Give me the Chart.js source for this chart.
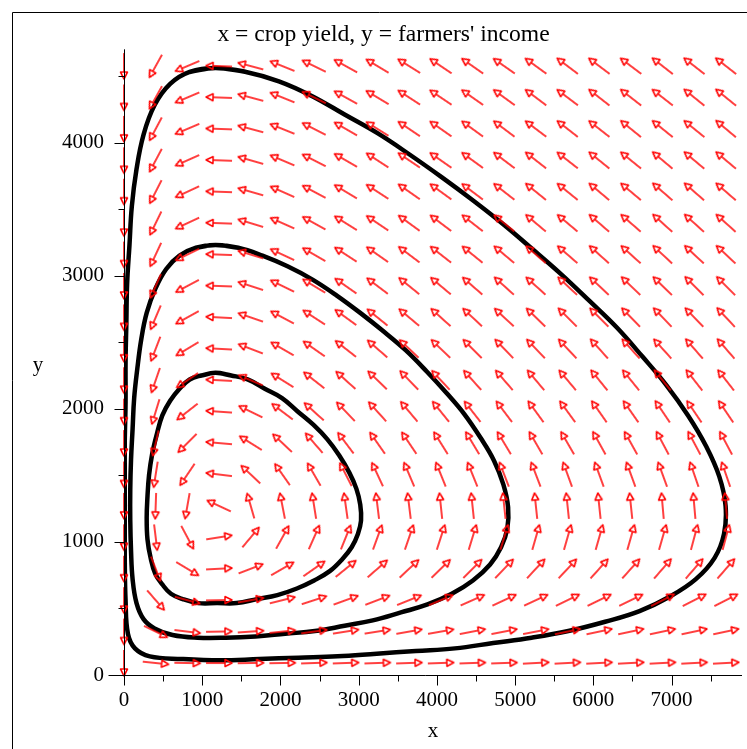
<!DOCTYPE html>
<html>
<head>
<meta charset="utf-8">
<title>x = crop yield, y = farmers' income</title>
<script src="https://cdn.jsdelivr.net/npm/chart.js@4.4.1/dist/chart.umd.min.js"></script>
<style>
  html, body { margin: 0; padding: 0; background: #ffffff; }
  #wrap { width: 747px; height: 749px; }
</style>
</head>
<body>
<div id="wrap"><canvas id="phaseChart" width="747" height="749"></canvas></div>
<script>
// Axis ticks (labelled every 1000, small marks every 500)
const xTickLabels = [0, 1000, 2000, 3000, 4000, 5000, 6000, 7000];
const yTickLabels = [0, 1000, 2000, 3000, 4000];
const xMinorTicks = [500, 1500, 2500, 3500, 4500, 5500, 6500, 7500];
const yMinorTicks = [500, 1500, 2500, 3500, 4500];

// Direction field grid: columns (x) and rows (y, listed top row first)
const fieldX = [0, 405, 810, 1215, 1620, 2025, 2430, 2835, 3240, 3645,
                4050, 4455, 4860, 5265, 5670, 6075, 6480, 6885, 7290, 7695];
const fieldY = [4574, 4338, 4102, 3866, 3630, 3394, 3158, 2922, 2686, 2450,
                2214, 1978, 1742, 1506, 1270, 1034, 798, 562, 326, 90];

// Arrow direction on screen, degrees counter-clockwise from +x (one row per fieldY entry)
const fieldAngle = [
  [270, 241, 203, 178, 165, 158, 154, 151, 149, 148, 146, 145, 145, 144, 143, 143, 143, 142, 142, 142],
  [270, 241, 203, 178, 165, 158, 154, 151, 149, 147, 146, 145, 144, 143, 143, 142, 142, 142, 141, 141],
  [270, 242, 203, 178, 165, 158, 153, 150, 148, 146, 145, 144, 143, 143, 142, 142, 141, 141, 141, 140],
  [270, 242, 204, 178, 164, 157, 153, 150, 147, 146, 145, 144, 143, 142, 142, 141, 141, 140, 140, 140],
  [270, 243, 205, 178, 164, 156, 152, 149, 147, 145, 144, 143, 142, 141, 141, 140, 140, 139, 139, 139],
  [270, 244, 205, 178, 163, 156, 151, 148, 146, 144, 143, 142, 141, 140, 140, 139, 139, 138, 138, 138],
  [270, 245, 206, 178, 163, 155, 150, 147, 145, 143, 142, 141, 140, 139, 139, 138, 138, 137, 137, 137],
  [270, 246, 208, 178, 162, 154, 149, 145, 143, 141, 140, 139, 138, 138, 137, 137, 136, 136, 135, 135],
  [270, 247, 209, 177, 161, 152, 147, 144, 141, 140, 138, 137, 137, 136, 135, 135, 134, 134, 134, 133],
  [270, 249, 211, 177, 159, 150, 145, 142, 139, 137, 136, 135, 134, 134, 133, 132, 132, 132, 131, 131],
  [270, 251, 214, 177, 157, 148, 142, 138, 136, 134, 133, 132, 131, 130, 130, 129, 129, 129, 128, 128],
  [270, 253, 218, 176, 154, 143, 138, 134, 132, 130, 129, 128, 127, 126, 126, 125, 125, 124, 124, 124],
  [270, 257, 225, 175, 148, 137, 131, 127, 125, 124, 122, 121, 121, 120, 120, 119, 119, 118, 118, 118],
  [270, 261, 236, 173, 137, 125, 120, 117, 115, 113, 112, 112, 111, 111, 110, 110, 110, 110, 109, 109],
  [270, 268, 260, 155, 106, 101,  99,  98,  97,  97,  96,  96,  96,  96,  96,  96,  96,  95,  95,  95],
  [270, 277, 298,   9,  50,  61,  66,  68,  70,  71,  72,  73,  73,  74,  74,  74,  74,  74,  75,  75],
  [270, 291, 329,   3,  21,  30,  35,  39,  41,  43,  44,  45,  46,  47,  47,  48,  48,  49,  49,  49],
  [270, 311, 345,   1,  10,  14,  18,  20,  21,  22,  23,  24,  25,  25,  26,  26,  26,  27,  27,  27],
  [270, 334, 353,   1,   4,   6,   8,   9,   9,  10,  10,  11,  11,  11,  12,  12,  12,  12,  12,  12],
  [270, 354, 359,   0,   1,   1,   2,   2,   2,   2,   2,   2,   2,   3,   3,   3,   3,   3,   3,   3]
];

// Three closed solution curves
const innerX = [1170, 990, 840, 710, 590, 490, 420, 360, 320, 300, 290, 300, 340, 400, 490, 600, 750, 950, 1190, 1440,
                1700, 1960, 2210, 2430, 2630, 2790, 2910, 2990, 3030, 3020, 2970, 2880, 2750, 2600, 2420, 2220, 2020, 1800, 1580, 1370];
const innerY = [2270, 2250, 2220, 2150, 2060, 1950, 1810, 1660, 1500, 1340, 1180, 1020, 880, 760, 680, 610, 570, 540, 540, 540,
                570, 600, 650, 710, 780, 870, 960, 1060, 1160, 1280, 1400, 1520, 1650, 1770, 1880, 1980, 2080, 2150, 2220, 2250];

const middleX = [1170, 920, 710, 540, 400, 290, 220, 170, 130, 110, 90, 80, 80, 90, 110, 160, 250, 390, 620, 940,
                 1300, 1680, 2060, 2440, 2820, 3180, 3540, 3880, 4190, 4460, 4680, 4820, 4900, 4910, 4850, 4730, 4560, 4350, 4120, 3870,
                 3600, 3320, 3020, 2720, 2410, 2090, 1770, 1460];
const middleY = [3230, 3210, 3150, 3050, 2900, 2720, 2520, 2300, 2080, 1850, 1620, 1390, 1160, 930, 720, 540, 420, 350, 300, 280,
                 280, 290, 310, 330, 370, 410, 470, 530, 610, 710, 830, 960, 1100, 1260, 1430, 1610, 1780, 1960, 2120, 2280,
                 2440, 2580, 2720, 2850, 2970, 3070, 3150, 3210];

const outerX = [1170, 840, 590, 390, 250, 160, 100, 70, 40, 30, 20, 20, 10, 10, 10, 10, 20, 50, 140, 330,
                740, 1230, 1730, 2230, 2730, 3230, 3730, 4230, 4720, 5210, 5680, 6150, 6590, 6980, 7310, 7550, 7670, 7690, 7610, 7440,
                7210, 6930, 6630, 6300, 5950, 5590, 5220, 4840, 4450, 4060, 3650, 3240, 2820, 2400, 1980, 1560];
const outerY = [4560, 4530, 4440, 4280, 4060, 3800, 3520, 3230, 2940, 2640, 2350, 2050, 1750, 1450, 1150, 850, 560, 310, 200, 140,
                120, 110, 120, 130, 140, 160, 180, 200, 240, 280, 330, 400, 480, 590, 720, 880, 1060, 1270, 1490, 1720,
                1950, 2180, 2390, 2610, 2810, 3010, 3200, 3390, 3570, 3740, 3910, 4070, 4210, 4350, 4460, 4530];

const serif = '"Liberation Serif", "Times New Roman", serif';

// Build a closed loop of {x, y} points; wrap one point on each side so the spline joins smoothly
function closedLoop(xs, ys) {
    const pts = xs.map((x, i) => ({ x: x, y: ys[i] }));
    const n = pts.length;
    return [pts[n - 1]].concat(pts, [pts[0], pts[1]]);
}

// Arrow glyph used as the point style (drawn pointing right, centred)
function makeArrow() {
    const c = document.createElement('canvas');
    c.width = 30;
    c.height = 30;
    const g = c.getContext('2d');
    g.strokeStyle = '#ff0000';
    g.lineWidth = 1.5;
    g.lineJoin = 'round';
    g.beginPath();
    g.moveTo(2, 15);
    g.lineTo(21, 15);
    g.stroke();
    g.beginPath();
    g.moveTo(28, 15);
    g.lineTo(21, 11.5);
    g.lineTo(21, 18.5);
    g.closePath();
    g.stroke();
    return c;
}

// Flatten the grid into points + rotations
const arrowPoints = [];
const arrowRotation = [];
fieldY.forEach((y, r) => {
    fieldX.forEach((x, k) => {
        arrowPoints.push({ x: x, y: y });
        arrowRotation.push(-fieldAngle[r][k]);
    });
});

// Axis lines, tick marks, frame and the upright "y" label
const axesPlugin = {
    id: 'mapleAxes',
    beforeDraw(chart) {
        const ctx = chart.ctx;
        ctx.save();
        ctx.fillStyle = '#ffffff';
        ctx.fillRect(0, 0, chart.width, chart.height);
        ctx.restore();
    },
    afterDatasetsDraw(chart) {
        const ctx = chart.ctx;
        const xs = chart.scales.x;
        const ys = chart.scales.y;
        const x0 = Math.round(xs.getPixelForValue(0)) + 0.5;
        const y0 = Math.round(ys.getPixelForValue(0)) + 0.5;
        ctx.save();
        ctx.strokeStyle = '#000000';
        ctx.lineWidth = 1;
        ctx.beginPath();
        // axis lines
        ctx.moveTo(x0 - 16, y0);
        ctx.lineTo(chart.chartArea.right, y0);
        ctx.moveTo(x0, chart.chartArea.top);
        ctx.lineTo(x0, y0 + 8);
        // x ticks
        xTickLabels.forEach(v => {
            const p = Math.round(xs.getPixelForValue(v)) + 0.5;
            ctx.moveTo(p, y0);
            ctx.lineTo(p, y0 + 10);
        });
        xMinorTicks.forEach(v => {
            const p = Math.round(xs.getPixelForValue(v)) + 0.5;
            ctx.moveTo(p, y0);
            ctx.lineTo(p, y0 + 6);
        });
        // y ticks
        yTickLabels.forEach(v => {
            const p = Math.round(ys.getPixelForValue(v)) + 0.5;
            ctx.moveTo(x0, p);
            ctx.lineTo(x0 - 10, p);
        });
        yMinorTicks.forEach(v => {
            const p = Math.round(ys.getPixelForValue(v)) + 0.5;
            ctx.moveTo(x0, p);
            ctx.lineTo(x0 - 6, p);
        });
        ctx.stroke();

        // outer frame (top and left edges visible)
        ctx.beginPath();
        ctx.moveTo(12.5, chart.height);
        ctx.lineTo(12.5, 12.5);
        ctx.lineTo(chart.width, 12.5);
        ctx.stroke();

        // upright y-axis title
        ctx.fillStyle = '#000000';
        ctx.font = '21px ' + serif;
        ctx.textAlign = 'center';
        ctx.textBaseline = 'alphabetic';
        ctx.fillText('y', 38, 371);
        ctx.restore();
    }
};

const curveStyle = {
    showLine: true,
    borderColor: '#000000',
    borderWidth: 4.5,
    borderJoinStyle: 'round',
    borderCapStyle: 'round',
    pointRadius: 0,
    tension: 0.4,
    fill: false,
    order: 1
};

const ctx = document.getElementById('phaseChart').getContext('2d');
const phaseChart = new Chart(ctx, {
    type: 'scatter',
    data: {
        datasets: [
            {
                label: 'direction field',
                data: arrowPoints,
                showLine: false,
                pointStyle: makeArrow(),
                pointRadius: 3,
                pointRotation: (c) => arrowRotation[c.dataIndex],
                clip: false,
                order: 0
            },
            Object.assign({ label: 'inner', data: closedLoop(innerX, innerY) }, curveStyle),
            Object.assign({ label: 'middle', data: closedLoop(middleX, middleY) }, curveStyle),
            Object.assign({ label: 'outer', data: closedLoop(outerX, outerY) }, curveStyle)
        ]
    },
    options: {
        responsive: false,
        animation: false,
        devicePixelRatio: 1,
        events: [],
        layout: {
            padding: { top: 12, left: 22, right: 2, bottom: 0 }
        },
        scales: {
            x: {
                type: 'linear',
                min: 0,
                max: 7900,
                afterBuildTicks: (scale) => {
                    scale.ticks = xTickLabels.map(v => ({ value: v }));
                },
                afterFit: (scale) => { scale.height = 74; },
                grid: { display: false, drawTicks: false },
                border: { display: false },
                ticks: {
                    color: '#000000',
                    padding: 13,
                    maxRotation: 0,
                    autoSkip: false,
                    font: { family: serif, size: 21 },
                    callback: (value) => String(value)
                },
                title: {
                    display: true,
                    text: 'x',
                    color: '#000000',
                    font: { family: serif, size: 21 },
                    padding: { top: 0, bottom: 5 }
                }
            },
            y: {
                type: 'linear',
                min: 0,
                max: 4700,
                afterBuildTicks: (scale) => {
                    scale.ticks = yTickLabels.map(v => ({ value: v }));
                },
                afterFit: (scale) => { scale.width = 102; },
                grid: { display: false, drawTicks: false },
                border: { display: false },
                ticks: {
                    color: '#000000',
                    padding: 20,
                    autoSkip: false,
                    font: { family: serif, size: 21 },
                    callback: (value) => String(value)
                }
            }
        },
        plugins: {
            legend: { display: false },
            tooltip: { enabled: false },
            title: {
                display: true,
                text: "x = crop yield, y = farmers' income",
                color: '#000000',
                font: { family: serif, size: 23.6, weight: 'normal' },
                padding: { top: 9, bottom: 0 }
            }
        }
    },
    plugins: [axesPlugin]
});
</script>
</body>
</html>
